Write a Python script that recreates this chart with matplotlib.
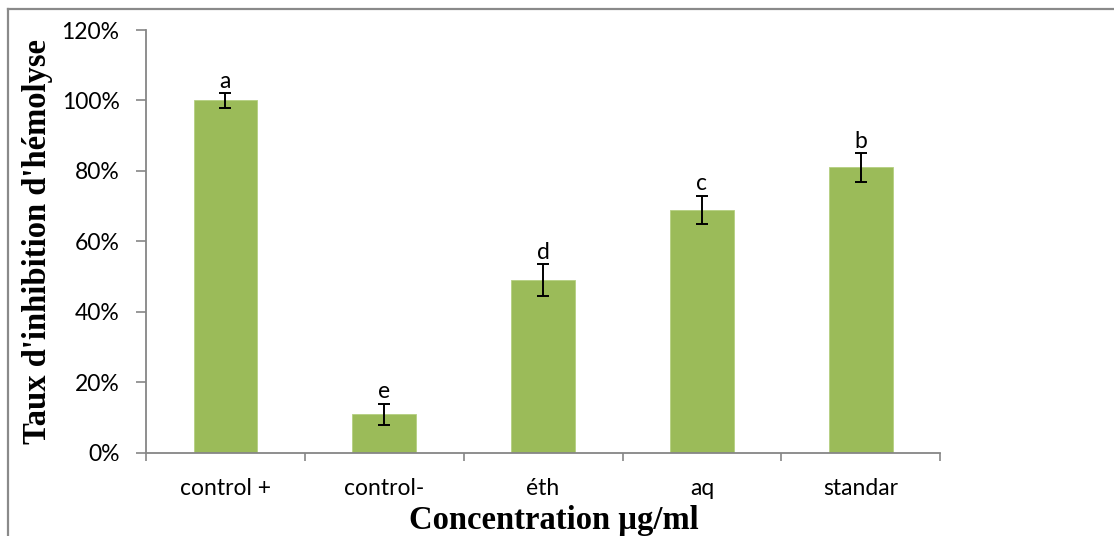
import matplotlib
matplotlib.use("Agg")
import matplotlib.pyplot as plt
from matplotlib.lines import Line2D
from matplotlib.ticker import FixedLocator, PercentFormatter
import numpy as np

categories = ["control +", "control-", "éth", "aq", "standar"]
inhibition = [100, 11, 49, 69, 81]          # % inhibition of haemolysis
errors = [2, 3, 4.5, 4, 4]                  # error bar half-lengths (%)
letters = ["a", "e", "d", "c", "b"]         # significance groups
yticks = [0, 20, 40, 60, 80, 100, 120]

tick_font = "Lato"
title_font = "Liberation Serif"
axis_grey = "#868686"
bar_green = "#9BBB59"
tick_size = 16.5

fig = plt.figure(figsize=(11.14, 5.36), dpi=100)
ax = fig.add_axes([0.131, 0.155, 0.713, 0.789])

x = np.arange(len(categories))
ax.bar(x, inhibition, width=0.4, color=bar_green, edgecolor="#B5CF80",
       linewidth=0.6, zorder=2)
ax.errorbar(x, inhibition, yerr=errors, fmt="none", ecolor="black",
            elinewidth=1.4, capsize=4.5, capthick=1.4, zorder=3)

for xi, v, e, lab in zip(x, inhibition, errors, letters):
    ax.annotate(lab, (xi, v + e), xytext=(0, 1), textcoords="offset points",
                ha="center", va="bottom", fontsize=tick_size, family=tick_font)

ax.set_xlim(-0.5, len(categories) - 0.5)
ax.set_ylim(0, 120)
ax.set_yticks(yticks)
ax.yaxis.set_major_formatter(PercentFormatter(decimals=0))

ax.set_xticks(x)
ax.set_xticklabels(categories)
ax.xaxis.set_minor_locator(FixedLocator(np.arange(-0.5, len(categories), 1.0)))
ax.tick_params(axis="x", which="major", length=0, pad=18, labelsize=tick_size)
ax.tick_params(axis="x", which="minor", length=6, width=1.2, color=axis_grey,
               direction="out")
ax.tick_params(axis="y", length=7, width=1.2, color=axis_grey, pad=12,
               labelsize=tick_size)
for lbl in ax.get_xticklabels() + ax.get_yticklabels():
    lbl.set_family(tick_font)

for side in ["top", "right"]:
    ax.spines[side].set_visible(False)
for side in ["left", "bottom"]:
    ax.spines[side].set_color(axis_grey)
    ax.spines[side].set_linewidth(1.3)

ax.set_xlabel("Concentration µg/ml", family=title_font, fontweight="bold",
              fontsize=23.5)
ax.xaxis.set_label_coords(0.514, -0.124)
ax.set_ylabel("Taux d'inhibition d'hémolyse", family=title_font,
              fontweight="bold", fontsize=23.5, labelpad=6)

# outer chart frame (top and left edges)
fig.add_artist(Line2D([8 / 1114, 8 / 1114], [0, 1 - 9 / 536],
                      transform=fig.transFigure, color="#8A8A8A", lw=1.6))
fig.add_artist(Line2D([8 / 1114, 1], [1 - 9 / 536, 1 - 9 / 536],
                      transform=fig.transFigure, color="#8A8A8A", lw=1.6))

fig.savefig("out.png", dpi=100)
